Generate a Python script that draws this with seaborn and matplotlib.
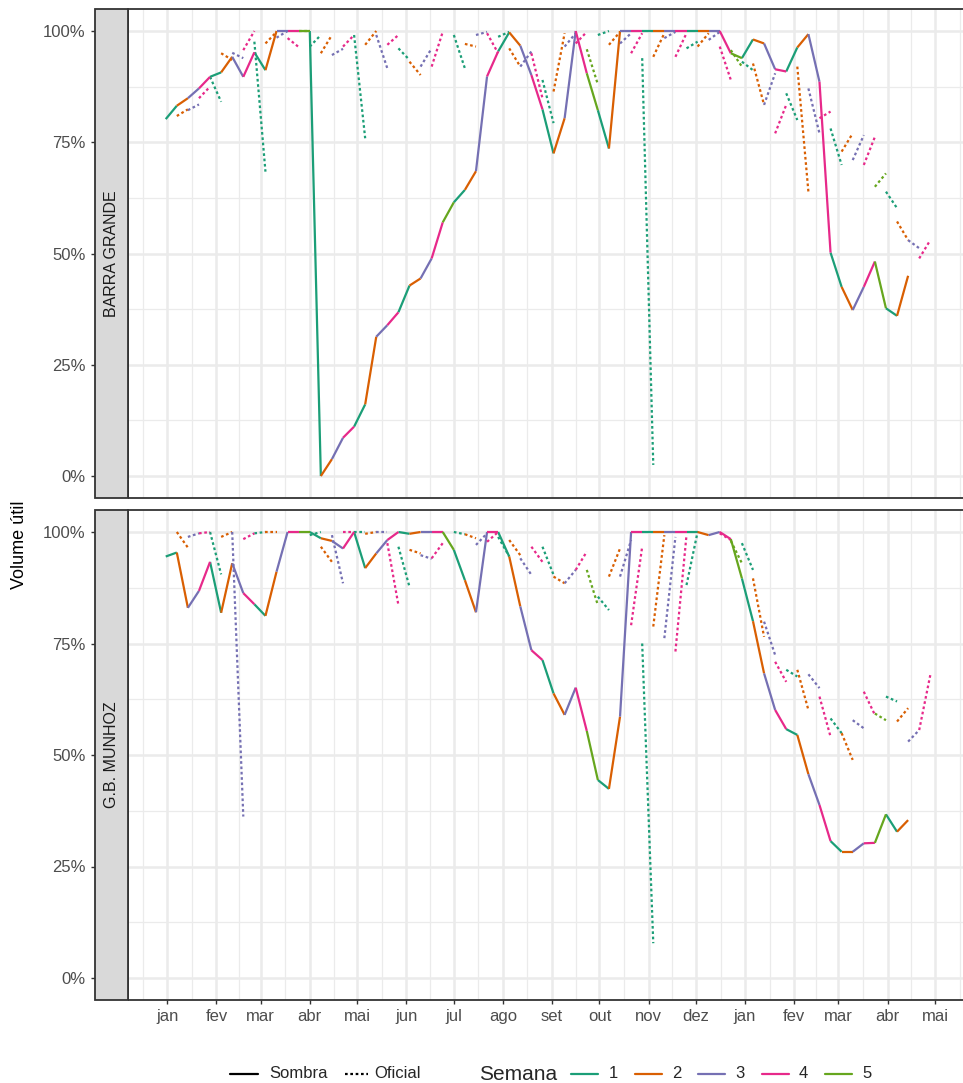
import numpy as np
import pandas as pd
import matplotlib
matplotlib.use("Agg")
import matplotlib.pyplot as plt
import matplotlib.dates as mdates
from matplotlib.lines import Line2D
from matplotlib.patches import Rectangle
import seaborn as sns

# ---------------------------------------------------------------- data
primeira_semana = pd.Timestamp("2021-12-31")   # first operating week (Fri)
usinas = ["BARRA GRANDE", "G.B. MUNHOZ"]
meses = ["jan", "fev", "mar", "abr", "mai", "jun",
         "jul", "ago", "set", "out", "nov", "dez"]
semanas = ["1", "2", "3", "4", "5"]
cores_semana = ["#1B9E77", "#D95F02", "#7570B3", "#E7298A", "#66A61E"]
tipos = ["Sombra", "Oficial"]
nan = np.nan

# Sombra: useful volume (%) at the start of each operating week
sombra_barra_grande = [
    80.2, 83.2, 84.9, 87.1, 89.7, 90.7, 94.2, 89.7, 95.2, 91.2,
    100, 100, 100, 100, 0.0, 3.8, 8.6, 11.1, 16.1, 31.3,
    33.9, 36.8, 42.8, 44.4, 48.9, 57.0, 61.5, 64.3, 68.5, 89.8,
    95.4, 99.7, 96.7, 90.1, 82.4, 72.5, 80.4, 100, 90.5, 82.2,
    73.6, 100, 100, 100, 100, 100, 100, 100, 100, 100,
    100, 95.0, 93.9, 98.1, 97.2, 91.4, 90.9, 96.3, 99.3, 88.6,
    50.2, 42.5, 37.3, 42.5, 48.2, 37.7, 36.0, 45.0,
]
sombra_gb_munhoz = [
    94.5, 95.4, 83.0, 86.8, 93.3, 81.9, 93.0, 86.3, 83.8, 81.2,
    91.1, 100, 100, 100, 98.6, 98.0, 96.3, 100, 91.9, 95.2,
    98.2, 100, 99.6, 100, 100, 100, 96.0, 89.2, 82.0, 100,
    100, 94.5, 83.3, 73.5, 71.3, 63.8, 59.0, 65.1, 55.4, 44.4,
    42.4, 58.6, 100, 100, 100, 100, 100, 100, 100, 99.3,
    100, 98.4, 89.6, 80.0, 68.3, 60.1, 55.8, 54.5, 45.7, 38.8,
    30.7, 28.3, 28.3, 30.2, 30.3, 36.7, 32.8, 35.4,
]

# Oficial: each week's forecast, value at the start and at the end of the week
oficial_ini_barra_grande = [
    nan, 80.9, 82.2, 84.9, 89.7, 95.0, 95.1, 95.7, 97.6, 97.2,
    98.5, 98.4, 100, 96.5, 95.0, 94.6, 96.5, 99.1, 96.9, 99.1,
    96.9, 96.1, 93.1, 92.0, 92.0, nan, 99.1, 97.1, 99.1, 99.5,
    98.7, 96.1, 92.0, 95.0, 89.0, 86.4, 96.5, 97.2, 95.9, 99.1,
    96.9, 97.2, 95.0, 93.9, 94.2, 98.4, 94.2, 96.1, 96.5, 98.0,
    96.5, 95.7, 93.1, 92.7, 83.4, 77.0, 86.0, 92.0, 87.1, 80.4,
    78.1, 72.9, 71.0, 69.9, 65.0, 63.9, 57.2, 53.0, 48.9,
]
oficial_fim_barra_grande = [
    nan, 82.4, 83.5, 87.5, 84.1, 93.5, 93.9, 100, 68.4, 99.8,
    100, 96.4, 100, 99.1, 99.1, 96.0, 99.1, 75.9, 100, 91.6,
    99.1, 93.5, 90.1, 96.1, 99.8, nan, 91.6, 96.5, 99.8, 95.0,
    99.8, 92.0, 95.4, 84.9, 79.3, 99.5, 99.5, 99.8, 88.0, 100,
    99.8, 99.5, 99.5, 2.5, 99.5, 99.8, 99.5, 97.6, 99.5, 99.8,
    89.0, 92.0, 91.2, 83.4, 90.5, 83.4, 80.0, 63.9, 77.0, 81.9,
    69.9, 77.0, 76.6, 76.2, 68.0, 60.2, 53.0, 51.2, 53.0,
]
oficial_ini_gb_munhoz = [
    nan, 100, 98.9, 99.7, 100, 98.9, 100, 98.4, 99.7, 100,
    nan, nan, nan, 99.3, 96.7, 99.3, 100, 100, 99.6, 100,
    97.5, 96.7, 96.0, 94.8, 94.1, nan, 100, 99.5, 97.1, 97.8,
    98.9, 98.2, 94.1, 96.7, 96.7, 90.0, 88.5, 91.5, 91.5, 85.5,
    90.0, 90.0, 79.1, 75.0, 78.8, 76.2, 73.2, 88.1, nan, nan,
    99.7, 98.0, 97.5, 89.6, 79.9, 70.9, 69.1, 69.1, 68.1, 63.1,
    58.2, 54.9, 57.8, 64.2, 59.3, 63.1, 57.5, 53.0, 55.6,
]
oficial_fim_gb_munhoz = [
    nan, 96.5, 99.7, 100, 90.5, 100, 36.2, 99.7, 100, 100,
    nan, nan, nan, 100, 93.3, 88.5, 100, 100, 100, 100,
    83.6, 87.7, 95.2, 94.0, 97.5, nan, 99.5, 98.6, 99.7, 100,
    94.5, 94.8, 90.4, 93.3, 90.4, 88.5, 91.5, 95.6, 83.6, 82.5,
    96.3, 98.2, 96.7, 7.8, 99.3, 98.9, 99.3, 100, nan, nan,
    98.2, 93.0, 91.5, 76.5, 72.4, 66.4, 67.6, 60.1, 65.0, 54.1,
    54.9, 48.9, 56.0, 59.0, 57.8, 62.0, 60.5, 55.6, 67.9,
]

series = {
    "BARRA GRANDE": (sombra_barra_grande, oficial_ini_barra_grande, oficial_fim_barra_grande),
    "G.B. MUNHOZ": (sombra_gb_munhoz, oficial_ini_gb_munhoz, oficial_fim_gb_munhoz),
}


def semana_do_mes(inicio):
    """Week of the month, taken from the last day of the operating week."""
    fim = inicio + pd.Timedelta(days=6)
    return str((fim.day - 1) // 7 + 1)


def montar(sombra, ini, fim):
    datas = [primeira_semana + pd.Timedelta(weeks=k) for k in range(len(ini) + 1)]
    linhas = []
    for k in range(len(sombra) - 1):
        s = semana_do_mes(datas[k])
        for j in (k, k + 1):
            linhas.append(dict(seg=f"s{k}", data=datas[j], volume=sombra[j],
                               tipo="Sombra", semana=s))
    for k in range(len(ini)):
        if np.isnan(ini[k]):
            continue
        s = semana_do_mes(datas[k])
        linhas.append(dict(seg=f"o{k}", data=datas[k], volume=ini[k],
                           tipo="Oficial", semana=s))
        linhas.append(dict(seg=f"o{k}", data=datas[k + 1], volume=fim[k],
                           tipo="Oficial", semana=s))
    return pd.DataFrame(linhas), datas


# ---------------------------------------------------------------- style
sns.set_theme(style="white")
plt.rcParams["font.family"] = ["Liberation Sans", "DejaVu Sans"]

W, H = 963, 1083
fig = plt.figure(figsize=(W / 100, H / 100), dpi=100)
fig.patch.set_facecolor("white")


def caixa(x0, y0, x1, y1):
    return [x0 / W, 1 - y1 / H, (x1 - x0) / W, (y1 - y0) / H]


def fx(x):
    return x / W


def fy(y):
    return 1 - y / H


paineis = {"BARRA GRANDE": (8.75, 498.3), "G.B. MUNHOZ": (509.7, 1000.3)}
x_esq, x_dir = 127.5, 968.5
strip_esq = 95.0

lw_dados = 1.6
tracejado = (1.2, 1.2)
grade = "#EBEBEB"
borda = "#333333"
tam_texto = 12

for i, usina in enumerate(usinas):
    y0, y1 = paineis[usina]
    ax = fig.add_axes(caixa(x_esq, y0, x_dir, y1))
    sombra, ini, fim = series[usina]
    df, datas = montar(sombra, ini, fim)

    # grid
    x_min = mdates.date2num(datas[0])
    x_max = mdates.date2num(datas[-1])
    pad = 0.05 * (x_max - x_min)
    inicios_mes = pd.date_range("2021-12-01", "2023-06-01", freq="MS")
    maiores = mdates.date2num(inicios_mes)
    menores = (maiores[:-1] + maiores[1:]) / 2
    for v in menores:
        ax.axvline(v, color=grade, lw=0.9, zorder=0)
    for v in maiores:
        ax.axvline(v, color=grade, lw=1.8, zorder=0)
    for v in [12.5, 37.5, 62.5, 87.5]:
        ax.axhline(v, color=grade, lw=0.9, zorder=0)
    for v in [0, 25, 50, 75, 100]:
        ax.axhline(v, color=grade, lw=1.8, zorder=0)

    sns.lineplot(data=df, x="data", y="volume", hue="semana", hue_order=semanas,
                 palette=cores_semana, style="tipo", style_order=tipos,
                 dashes={"Sombra": "", "Oficial": tracejado},
                 units="seg", estimator=None, sort=False, legend=False,
                 linewidth=lw_dados, ax=ax)
    for ln in ax.get_lines():
        ln.set_solid_capstyle("butt")
        ln.set_dash_capstyle("butt")

    ax.set_xlim(x_min - pad, x_max + pad)
    ax.set_ylim(-5, 105)
    ax.set_xlabel("")
    ax.set_ylabel("")

    ax.set_yticks([0, 25, 50, 75, 100])
    ax.set_yticklabels([f"{v}%" for v in [0, 25, 50, 75, 100]])
    ticks_x = mdates.date2num(pd.date_range("2022-01-01", "2023-05-01", freq="MS"))
    ax.set_xticks(ticks_x)
    if i == len(usinas) - 1:
        ax.set_xticklabels([meses[d.month - 1] for d in
                            pd.date_range("2022-01-01", "2023-05-01", freq="MS")])
        ax.tick_params(axis="x", bottom=True, length=3, width=1.0, color=borda,
                       labelsize=tam_texto, labelcolor="#4D4D4D", pad=3)
    else:
        ax.set_xticklabels([])
        ax.tick_params(axis="x", bottom=False, length=0)

    # y axis sits outside the strip
    ax.spines["left"].set_position(("outward", (x_esq - strip_esq) * 0.72))
    for s in ax.spines.values():
        s.set_visible(False)
    ax.tick_params(axis="y", left=True, length=3, width=1.0, color=borda,
                   labelsize=tam_texto, labelcolor="#4D4D4D", pad=4)
    ax.grid(False)
    ax.set_facecolor("white")
    ax.add_patch(Rectangle((0, 0), 1, 1, transform=ax.transAxes, fill=False,
                           edgecolor=borda, lw=1.3, clip_on=False, zorder=10))

    # strip on the left
    fig.add_artist(Rectangle((fx(strip_esq), fy(y1)), fx(x_esq) - fx(strip_esq),
                             fy(y0) - fy(y1), transform=fig.transFigure,
                             facecolor="#D9D9D9", edgecolor=borda, lw=1.3, zorder=5))
    fig.text(fx((strip_esq + x_esq) / 2), fy((y0 + y1) / 2), usina, rotation=90,
             ha="center", va="center", fontsize=11.5, color="#1A1A1A", zorder=6)

fig.text(fx(20), fy(545), "Volume útil", rotation=90, ha="center", va="center",
         fontsize=13, color="black")

# ---------------------------------------------------------------- legend
y_leg = fy(1074)
fig.add_artist(Line2D([fx(230), fx(258)], [y_leg, y_leg], color="black",
                      lw=lw_dados, transform=fig.transFigure))
fig.text(fx(269), y_leg, "Sombra", ha="left", va="center", fontsize=tam_texto)
fig.add_artist(Line2D([fx(345), fx(368)], [y_leg, y_leg], color="black",
                      lw=lw_dados, dashes=tracejado, transform=fig.transFigure))
fig.text(fx(374), y_leg, "Oficial", ha="left", va="center", fontsize=tam_texto)
fig.text(fx(479), y_leg, "Semana", ha="left", va="center", fontsize=15)
for j, (s, c) in enumerate(zip(semanas, cores_semana)):
    x0 = 571 + j * 63.5
    fig.add_artist(Line2D([fx(x0), fx(x0 + 27)], [y_leg, y_leg], color=c,
                          lw=lw_dados, transform=fig.transFigure))
    fig.text(fx(x0 + 42), y_leg, s, ha="center", va="center", fontsize=tam_texto)

fig.savefig("out.png", dpi=100, facecolor="white")
